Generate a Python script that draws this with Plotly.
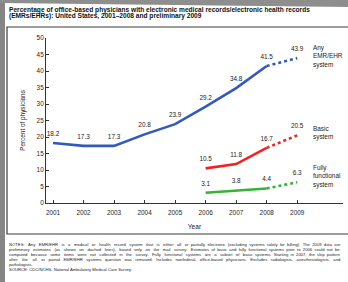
import plotly.graph_objects as go

years = [2001, 2002, 2003, 2004, 2005, 2006, 2007, 2008, 2009]
any_years = [2001, 2002, 2003, 2004, 2005, 2006, 2007, 2008]
any_vals = [18.2, 17.3, 17.3, 20.8, 23.9, 29.2, 34.8, 41.5]
any_prelim = [41.5, 43.9]
sub_years = [2006, 2007, 2008]
basic_vals = [10.5, 11.8, 16.7]
basic_prelim = [16.7, 20.5]
full_vals = [3.1, 3.8, 4.4]
full_prelim = [4.4, 6.3]
prelim_years = [2008, 2009]
y_ticks = [0, 5, 10, 15, 20, 25, 30, 35, 40, 45, 50]

series_names = ["Any<br>EMR/EHR<br>system", "Basic<br>system", "Fully<br>functional<br>system"]

title_lines = [
    "Percentage of office-based physicians with electronic medical records/electronic health records",
    "(EMRs/EHRs): United States, 2001\u20132008 and preliminary 2009",
]
notes_lines = [
    "NOTES: Any EMR/EHR is a medical or health record system that is either all or partially electronic (excluding systems solely for billing). The 2009 data are",
    "preliminary estimates (as shown on dashed lines), based only on the mail survey. Estimates of basic and fully functional systems prior to 2006 could not be",
    "computed because some items were not collected in the survey. Fully functional systems are a subset of basic systems. Starting in 2007, the skip pattern",
    "after the all or partial EMR/EHR systems question was removed. Includes nonfederal, office-based physicians. Excludes radiologists, anesthesiologists, and",
    "pathologists.",
    "SOURCE: CDC/NCHS, National Ambulatory Medical Care Survey.",
]
justified = [True, True, True, True, False, False]

BLUE = "#3459b8"
RED = "#f02222"
GREEN = "#36b336"
TXT = "#222222"
FONT = "Liberation Sans, Arial, sans-serif"
NOTE_SIZE = 4.2

W, H = 348, 282
L, R, T, B = 46, 5, 38, 79
PW, PH = W - L - R, H - T - B


def px(x):
    return (x - L) / PW


def py(y):
    return (H - B - y) / PH


# approximate Arial/Helvetica advance widths (em) used to justify the notes
_w = {}
for ch in "ijl'|":
    _w[ch] = 0.222
for ch in " .,:;/!ft[]I":
    _w[ch] = 0.278
_w["r"] = 0.333
_w["("] = _w[")"] = 0.333
_w["-"] = 0.333
for ch in "ckvxyzsJ":
    _w[ch] = 0.5
for ch in "abdeghnopqu0123456789L":
    _w[ch] = 0.556
for ch in "ABEKPSVXY":
    _w[ch] = 0.667
for ch in "CDHNRUw":
    _w[ch] = 0.722
for ch in "GOQ":
    _w[ch] = 0.778
_w["m"] = 0.833
_w["M"] = 0.833
_w["W"] = 0.944
_w["F"] = 0.611
_w["T"] = 0.611
_w["Z"] = 0.611


def est_width(s, size):
    return sum(_w.get(c, 0.556) for c in s) * size


def justify(s, size, target):
    words = s.split(" ")
    gaps = len(words) - 1
    deficit = target - est_width(s, size)
    sp = 0.278 * size
    extra = max(0, int(deficit // sp))
    out = words[0]
    for i, wd in enumerate(words[1:]):
        n = extra // gaps + (1 if i < extra % gaps else 0)
        out += " " + "\u00a0" * n + wd
    return out


fig = go.Figure()


def add_series(xs, ys, pxs, pys, color):
    fig.add_trace(go.Scatter(x=xs, y=ys, mode="lines",
                             line=dict(color=color, width=2.6), hoverinfo="skip"))
    fig.add_trace(go.Scatter(x=pxs, y=pys, mode="lines",
                             line=dict(color=color, width=2.6, dash="dot"), hoverinfo="skip"))
    allx = list(xs) + [pxs[-1]]
    ally = list(ys) + [pys[-1]]
    fig.add_trace(go.Scatter(x=allx, y=ally, mode="markers+text",
                             marker=dict(size=7, opacity=0),
                             text=[f"{v:.1f}" for v in ally], textposition="top center",
                             textfont=dict(size=6.4, color=TXT, family=FONT),
                             hoverinfo="skip"))


add_series(any_years, any_vals, prelim_years, any_prelim, BLUE)
add_series(sub_years, basic_vals, prelim_years, basic_prelim, RED)
add_series(sub_years, full_vals, prelim_years, full_prelim, GREEN)

# series labels on the right
label_y = [56, 133, 176]
for name, yy in zip(series_names, label_y):
    fig.add_annotation(x=px(311), y=py(yy), xref="paper", yref="paper", text=name,
                       showarrow=False, xanchor="left", yanchor="middle", align="left",
                       font=dict(size=6.4, color=TXT, family=FONT))

# title
for i, line in enumerate(title_lines):
    fig.add_annotation(x=px(7), y=py(9.5 + 7 * i), xref="paper", yref="paper", text="<b>" + line + "</b>",
                       showarrow=False, xanchor="left", yanchor="middle",
                       font=dict(size=6.6, color="#111111", family=FONT))

# notes
for i, line in enumerate(notes_lines):
    txt = justify(line, NOTE_SIZE, 333) if justified[i] else line
    fig.add_annotation(x=px(7), y=py(244 + 5 * i), xref="paper", yref="paper", text=txt,
                       showarrow=False, xanchor="left", yanchor="middle",
                       font=dict(size=NOTE_SIZE, color=TXT, family=FONT))

shapes = [
    # background gray edges
    dict(type="rect", xref="paper", yref="paper", x0=px(-2), x1=px(5), y0=py(290), y1=py(-2),
         fillcolor="#858585", line=dict(width=0), layer="below"),
    dict(type="path", xref="paper", yref="paper",
         path=f"M {px(0)},{py(0)} L {px(350)},{py(0)} L {px(350)},{py(7)} L {px(0)},{py(3)} Z",
         fillcolor="#8e8e8e", line=dict(width=0), layer="below"),
    # frame
    dict(type="rect", xref="paper", yref="paper", x0=px(7), x1=px(352), y0=py(234), y1=py(27),
         line=dict(color="#3a3a3a", width=1.2), fillcolor="rgba(0,0,0,0)", layer="below"),
]

fig.update_layout(
    width=W, height=H,
    margin=dict(l=L, r=R, t=T, b=B, autoexpand=False),
    paper_bgcolor="white", plot_bgcolor="white",
    showlegend=False,
    shapes=shapes,
    font=dict(family=FONT, color=TXT),
    xaxis=dict(range=[2000.77, 2010.5], tickvals=years, ticktext=[str(y) for y in years],
               automargin=False, ticklabelstandoff=3,
               ticks="inside", ticklen=3, tickcolor="#333", showline=True, linecolor="#333",
               linewidth=1, showgrid=False, zeroline=False,
               tickfont=dict(size=6.4, color=TXT),
               title=dict(text="Year", font=dict(size=6.6, color=TXT), standoff=9)),
    yaxis=dict(range=[0, 50], tickvals=y_ticks, ticks="inside", ticklen=3, tickcolor="#333",
               automargin=False,
               showline=True, linecolor="#333", linewidth=1, showgrid=False, zeroline=False,
               tickfont=dict(size=6.4, color=TXT),
               title=dict(text="Percent of physicians", font=dict(size=6.4, color=TXT), standoff=10)),
)

fig.write_html(
    "out.html",
    config={"displayModeBar": False},
    post_script="document.body.style.margin='0';document.body.style.padding='0';"
                "document.body.style.overflow='hidden';"
                "document.documentElement.style.overflow='hidden';",
)
